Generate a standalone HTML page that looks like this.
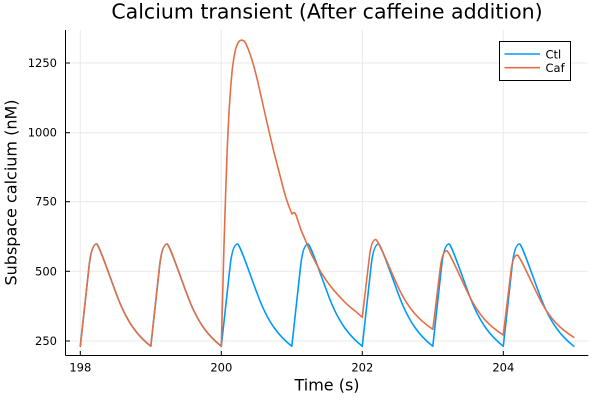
<!DOCTYPE html>
<html>
<head>
<meta charset="utf-8">
<style>
  html, body { margin: 0; padding: 0; background: #fff; }
  svg { display: block; }
  text { font-family: "DejaVu Sans", "Liberation Sans", sans-serif; fill: #000; }
</style>
</head>
<body>
<svg width="600" height="400" viewBox="0 0 600 400" xmlns="http://www.w3.org/2000/svg">
  <rect x="0" y="0" width="600" height="400" fill="#fff"/>

  <!-- grid -->
  <g stroke="#e9e9e9" stroke-width="1" fill="none">
    <line x1="80.3" y1="30" x2="80.3" y2="355.5"/>
    <line x1="221.3" y1="30" x2="221.3" y2="355.5"/>
    <line x1="362.3" y1="30" x2="362.3" y2="355.5"/>
    <line x1="503.3" y1="30" x2="503.3" y2="355.5"/>
    <line x1="65.5" y1="63" x2="588" y2="63"/>
    <line x1="65.5" y1="132.7" x2="588" y2="132.7"/>
    <line x1="65.5" y1="201.7" x2="588" y2="201.7"/>
    <line x1="65.5" y1="271.3" x2="588" y2="271.3"/>
    <line x1="65.5" y1="341" x2="588" y2="341"/>
  </g>

  <!-- axes -->
  <g stroke="#000" stroke-width="1" fill="none">
    <line x1="65.5" y1="30" x2="65.5" y2="355.5"/>
    <line x1="65.5" y1="355.5" x2="588.3" y2="355.5"/>
    <!-- y ticks (inward) -->
    <line x1="65.5" y1="63" x2="70" y2="63"/>
    <line x1="65.5" y1="132.7" x2="70" y2="132.7"/>
    <line x1="65.5" y1="201.7" x2="70" y2="201.7"/>
    <line x1="65.5" y1="271.3" x2="70" y2="271.3"/>
    <line x1="65.5" y1="341" x2="70" y2="341"/>
    <!-- x ticks (inward) -->
    <line x1="80.3" y1="355.5" x2="80.3" y2="351"/>
    <line x1="221.3" y1="355.5" x2="221.3" y2="351"/>
    <line x1="362.3" y1="355.5" x2="362.3" y2="351"/>
    <line x1="503.3" y1="355.5" x2="503.3" y2="351"/>
  </g>

  <!-- tick labels -->
  <g font-size="11.5" text-anchor="end">
    <text x="57" y="67">1250</text>
    <text x="57" y="136.7">1000</text>
    <text x="57" y="205.7">750</text>
    <text x="57" y="275.3">500</text>
    <text x="57" y="345">250</text>
  </g>
  <g font-size="11.5" text-anchor="middle">
    <text x="80.3" y="371.5">198</text>
    <text x="221.3" y="371.5">200</text>
    <text x="362.3" y="371.5">202</text>
    <text x="503.3" y="371.5">204</text>
  </g>

  <!-- axis labels & title -->
  <text x="327" y="390.5" font-size="16" text-anchor="middle">Time (s)</text>
  <text x="0" y="0" font-size="16" text-anchor="middle" transform="translate(16.5,192.5) rotate(-90)">Subspace calcium (nM)</text>
  <text x="327" y="18.5" font-size="20.5" text-anchor="middle">Calcium transient (After caffeine addition)</text>

  <!-- Ctl series -->
  <path fill="none" stroke="#009AFA" stroke-width="1.6" stroke-linejoin="round" stroke-linecap="round"
    d="M80.3,346.3
       l8.8,-80.3 c1.7,-15 4.2,-22 7.6,-22 c2.6,1.5 13.3,33.3 19.3,49 c11.3,31.5 23.3,44 34.8,53.3
       l8.8,-80.3 c1.7,-15 4.2,-22 7.6,-22 c2.6,1.5 13.3,33.3 19.3,49 c11.3,31.5 23.3,44 34.8,53.3
       l8.8,-80.3 c1.7,-15 4.2,-22 7.6,-22 c2.6,1.5 13.3,33.3 19.3,49 c11.3,31.5 23.3,44 34.8,53.3
       l8.8,-80.3 c1.7,-15 4.2,-22 7.6,-22 c2.6,1.5 13.3,33.3 19.3,49 c11.3,31.5 23.3,44 34.8,53.3
       l8.8,-80.3 c1.7,-15 4.2,-22 7.6,-22 c2.6,1.5 13.3,33.3 19.3,49 c11.3,31.5 23.3,44 34.8,53.3
       l8.8,-80.3 c1.7,-15 4.2,-22 7.6,-22 c2.6,1.5 13.3,33.3 19.3,49 c11.3,31.5 23.3,44 34.8,53.3
       l8.8,-80.3 c1.7,-15 4.2,-22 7.6,-22 c2.6,1.5 13.3,33.3 19.3,49 c11.3,31.5 23.3,44 34.8,53.3"/>

  <!-- Caf series -->
  <path fill="none" stroke="#E36F47" stroke-width="1.6" stroke-linejoin="round" stroke-linecap="round"
    d="M80.3,346.3
       l8.8,-80.3 c1.7,-15 4.2,-22 7.6,-22 c2.6,1.5 13.3,33.3 19.3,49 c11.3,31.5 23.3,44 34.8,53.3
       l8.8,-80.3 c1.7,-15 4.2,-22 7.6,-22 c2.6,1.5 13.3,33.3 19.3,49 c11.3,31.5 23.3,44 34.8,53.3
       L222.5,300 L224,245 L225.7,192 L227.3,147 L229,112 L230.7,87 L232.3,69 L234,57 L235.7,48.5
       L237.7,43.3 L239.7,40.7 L241.7,40 L243.7,40.8 L245.7,43.3 L248,48.5 L250.7,56 L254,66.7
       L257.5,80.5 L261,96 L265.5,116 L270,135.5 L274,152.5 L278.3,169 L284,191 L286,198
       L289.3,207.5 L292,214 L293.3,212.8 L294.5,212.7 L296,215 L301,230 L306,241.7 L311,253.5
       L316,263.3 L321,272.5 L326,280 L331,286.8 L336,292.7 L341,298.2 L346,303.3 L351,307.8
       L356,311.7 L362.3,317.3
       l7.2,-61.1 c1.4,-11.3 3.5,-16.7 6.3,-16.7 c2.74,1.32 14.02,29.24 20.34,43.02 c11.91,27.66 24.56,38.63 36.68,46.8
       l7.5,-61.7 c1.45,-11.5 3.6,-16.9 6.5,-16.9 c2.71,1.24 13.89,27.44 20.15,40.38 c11.8,25.96 24.33,36.26 36.35,43.92
       l7.5,-62.8 c1.45,-11.73 3.6,-17.2 6.5,-17.2 c2.71,1.21 13.89,26.79 20.15,39.42 c11.8,25.34 24.33,35.4 36.35,42.88"/>

  <!-- legend -->
  <rect x="499.5" y="41.5" width="71" height="39" fill="#fff" stroke="#000" stroke-width="1"/>
  <line x1="504.5" y1="54" x2="540" y2="54" stroke="#009AFA" stroke-width="1.6"/>
  <line x1="504.5" y1="67.7" x2="540" y2="67.7" stroke="#E36F47" stroke-width="1.6"/>
  <text x="545.5" y="58.3" font-size="11.5">Ctl</text>
  <text x="545.5" y="72" font-size="11.5">Caf</text>
</svg>
</body>
</html>
